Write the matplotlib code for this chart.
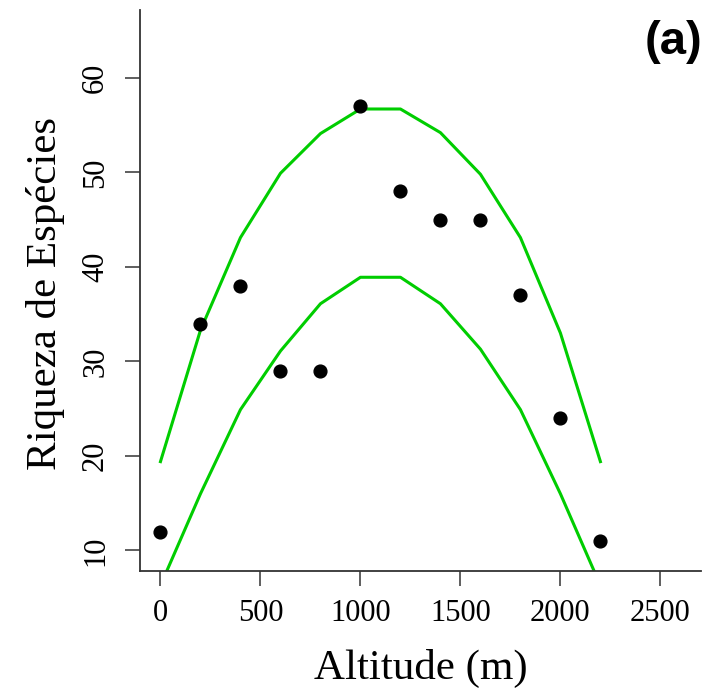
import matplotlib
matplotlib.use("Agg")
import matplotlib.pyplot as plt

# dados
altitude = [0, 200, 400, 600, 800, 1000, 1200, 1400, 1600, 1800, 2000, 2200]
riqueza = [12, 34, 38, 29, 29, 57, 48, 45, 45, 37, 24, 11]
limite_sup = [19.4, 33.3, 43.1, 49.9, 54.1, 56.7, 56.7, 54.2, 49.8, 43.1, 33.0, 19.4]
limite_inf = [6.3, 16.0, 24.9, 31.1, 36.1, 38.9, 38.9, 36.1, 31.3, 24.9, 16.0, 6.3]
xticks = [0, 500, 1000, 1500, 2000, 2500]
yticks = [10, 20, 30, 40, 50, 60]

fig = plt.figure(figsize=(7.09, 6.95), dpi=100)
ax = fig.add_axes([0.197, 0.178, 0.792, 0.808])

ax.plot(altitude, limite_sup, color="#00CD00", lw=2.2)
ax.plot(altitude, limite_inf, color="#00CD00", lw=2.2)
ax.plot(altitude, riqueza, "o", color="black", ms=9.2, zorder=3)

ax.set_xlim(-104, 2704)
ax.set_ylim(7.8, 67.2)
ax.set_xticks(xticks)
ax.set_yticks(yticks)

for s in ["top", "right"]:
    ax.spines[s].set_visible(False)
for s in ["left", "bottom"]:
    ax.spines[s].set_color("#333333")
    ax.spines[s].set_linewidth(1.3)

serif = "Liberation Serif"
ax.tick_params(direction="out", length=10.8, width=1.1, color="#333333")
ax.tick_params(axis="x", pad=9)
ax.tick_params(axis="y", pad=10.5)
for lab in ax.get_xticklabels():
    lab.set_fontfamily(serif)
    lab.set_fontsize(22)
for lab in ax.get_yticklabels():
    lab.set_fontfamily(serif)
    lab.set_fontsize(22)
    lab.set_rotation(90)
    lab.set_va("center")

ax.set_xlabel("Altitude (m)", fontfamily=serif, fontsize=31)
ax.set_ylabel("Riqueza de Espécies", fontfamily=serif, fontsize=31)
ax.xaxis.set_label_coords(0.5, -0.173)
ax.xaxis.label.set_va("center")
ax.yaxis.set_label_coords(-0.168, 0.495)
ax.yaxis.label.set_va("center")

fig.text(0.990, 0.971, "(a)", ha="right", va="top",
         fontfamily="Liberation Sans", fontweight="bold", fontsize=34)

fig.savefig("out.png", dpi=100)
